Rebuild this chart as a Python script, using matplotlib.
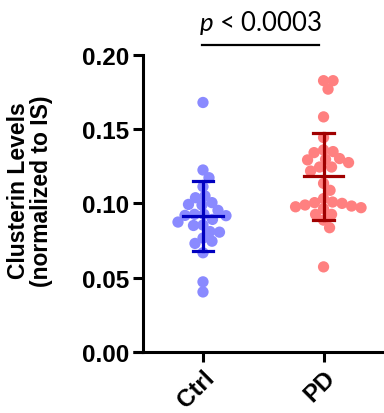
import numpy as np
import matplotlib
matplotlib.use("Agg")
import matplotlib.pyplot as plt

# values
groups = ["Ctrl", "PD"]
ctrl = [0.168, 0.1225, 0.1173, 0.1113, 0.105, 0.1038, 0.1005, 0.0993, 0.0989,
        0.0953, 0.0926, 0.0926, 0.0919, 0.0917, 0.0892, 0.0874, 0.0854, 0.0851,
        0.081, 0.0806, 0.0766, 0.0745, 0.073, 0.0667, 0.0471, 0.0403]
pd_vals = [0.1827, 0.1827, 0.177, 0.1583, 0.1444, 0.136, 0.1349, 0.1342, 0.1302,
           0.1297, 0.1293, 0.1275, 0.1245, 0.1245, 0.1218, 0.1135, 0.1088, 0.1032,
           0.1009, 0.1005, 0.1, 0.0989, 0.0982, 0.0977, 0.0971, 0.0964, 0.0926,
           0.0926, 0.0887, 0.0836, 0.0572]
means = [0.0915, 0.1185]
sd_low = [0.0678, 0.0887]
sd_high = [0.115, 0.1477]
p_text = "$p$ < 0.0003"

point_colors = ["#8a8aff", "#ff8080"]
bar_colors = ["#0000c0", "#a00000"]

plt.rcParams["mathtext.fontset"] = "custom"
plt.rcParams["mathtext.it"] = "Lato:italic"
plt.rcParams["mathtext.rm"] = "Lato"

fig = plt.figure(figsize=(3.84, 4.14), dpi=100)
ax = fig.add_axes([0.3716, 0.148, 0.628, 0.7167])
ax.set_xlim(-0.5, 1.5)
ax.set_ylim(0, 0.2)

# pixel scales for a simple beeswarm layout
px_x = 120.6
px_y = 1480.0
gap = 9.5


def swarm(vals, center):
    order = np.argsort(vals)[::-1]
    placed = []
    xs = np.zeros(len(vals))
    for i in order:
        y = vals[i] * px_y
        best = None
        for k in range(0, 80):
            for sgn in ([0] if k == 0 else [1, -1]):
                off = sgn * k * 0.5
                ok = all((off - px) ** 2 + (y - py) ** 2 >= gap ** 2
                         for px, py in placed)
                if ok:
                    best = off
                    break
            if best is not None:
                break
        placed.append((best, y))
        xs[i] = center + best / px_x
    return xs


for i, vals in enumerate([ctrl, pd_vals]):
    xs = swarm(np.array(vals), i)
    ax.scatter(xs, vals, s=66, color=point_colors[i], edgecolors="none",
               zorder=2, clip_on=False)
    ax.plot([i, i], [sd_low[i], sd_high[i]], color=bar_colors[i], lw=2.3, zorder=3)
    ax.plot([i - 0.085, i + 0.085], [sd_low[i]] * 2, color=bar_colors[i], lw=2.3, zorder=3)
    ax.plot([i - 0.085, i + 0.085], [sd_high[i]] * 2, color=bar_colors[i], lw=2.3, zorder=3)
    ax.plot([i - 0.165, i + 0.165], [means[i]] * 2, color=bar_colors[i], lw=2.3, zorder=3)

# significance bracket
ax.plot([-0.01, 0.965], [0.2068, 0.2068], color="black", lw=1.6, clip_on=False)
ax.text(0.475, 0.2125, p_text, ha="center", va="bottom", fontsize=18.5,
        family="Lato", clip_on=False)

for s in ["top", "right"]:
    ax.spines[s].set_visible(False)
ax.spines["left"].set_linewidth(2.2)
ax.spines["bottom"].set_linewidth(2.2)
ax.spines["bottom"].set_bounds(-0.5, 1.5)
# short stub of x axis left of the y axis
ax.plot([-0.58, -0.5], [0, 0], color="black", lw=2.2, clip_on=False,
        solid_capstyle="butt")

ax.set_yticks([0.0, 0.05, 0.10, 0.15, 0.20])
ax.set_yticklabels(["0.00", "0.05", "0.10", "0.15", "0.20"])
ax.set_xticks([0, 1])
ax.set_xticklabels(groups, rotation=45, ha="right", rotation_mode="anchor")
ax.tick_params(width=2.2, length=7, labelsize=17.5, pad=3)
for lab in ax.get_xticklabels() + ax.get_yticklabels():
    lab.set_fontweight("bold")
    lab.set_family("Liberation Sans")

ax.set_ylabel("Clusterin Levels\n(normalized to IS)", fontsize=16.5,
              fontweight="bold", family="Liberation Sans", linespacing=1.0)
ax.yaxis.set_label_coords(-0.372, 0.545)

fig.savefig("out.png", dpi=100)
